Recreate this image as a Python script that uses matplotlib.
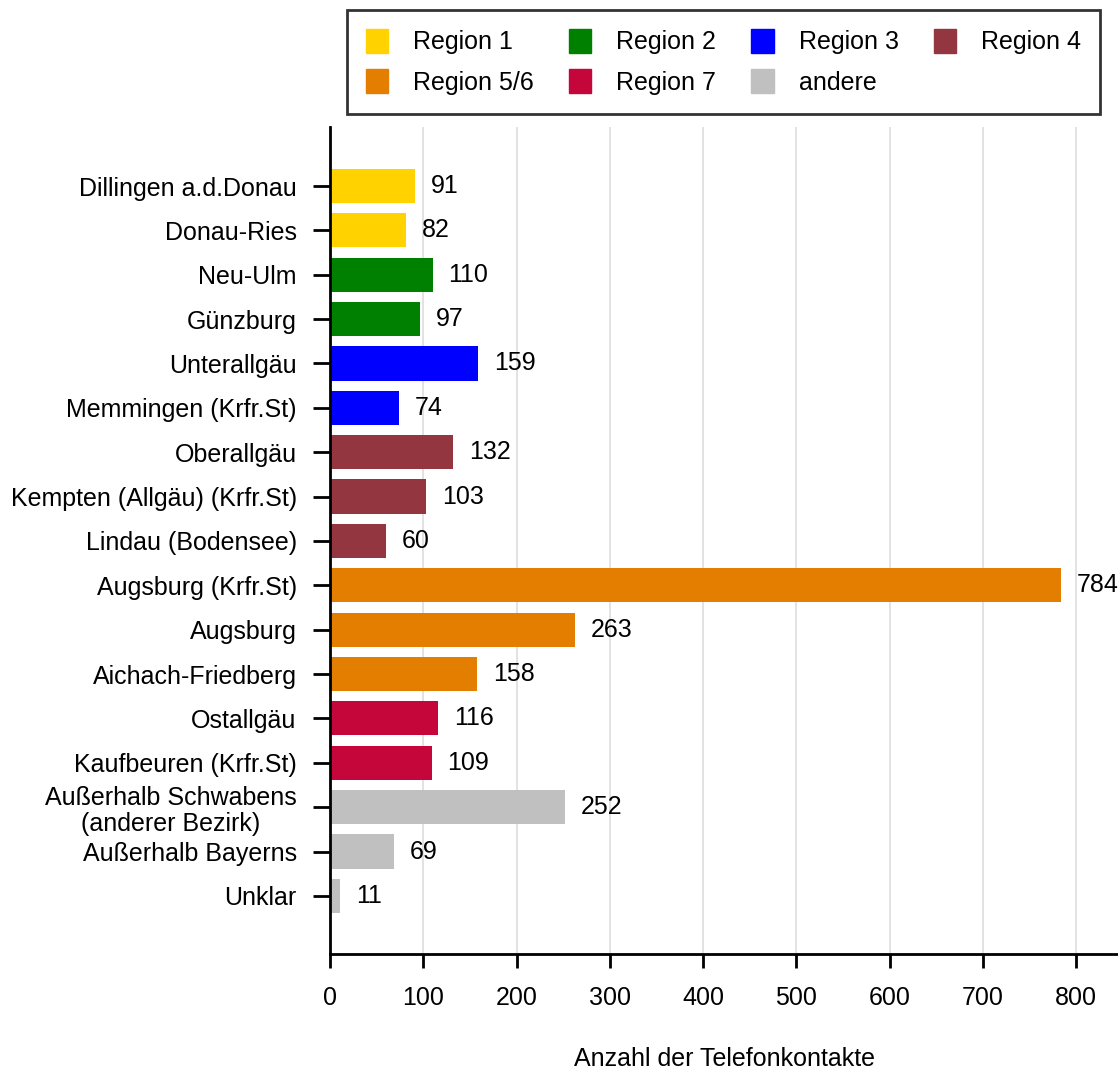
import matplotlib.pyplot as plt
from matplotlib.patches import Patch

plt.rcParams['font.family'] = ['Liberation Sans', 'DejaVu Sans']

labels = ['Dillingen a.d.Donau', 'Donau-Ries', 'Neu-Ulm', 'Günzburg', 'Unterallgäu',
          'Memmingen (Krfr.St)', 'Oberallgäu', 'Kempten (Allgäu) (Krfr.St)',
          'Lindau (Bodensee)', 'Augsburg (Krfr.St)', 'Augsburg', 'Aichach-Friedberg',
          'Ostallgäu', 'Kaufbeuren (Krfr.St)', 'Außerhalb Schwabens\n(anderer Bezirk)',
          'Außerhalb Bayerns', 'Unklar']
values = [91, 82, 110, 97, 159, 74, 132, 103, 60, 784, 263, 158, 116, 109, 252, 69, 11]
regions = ['Region 1', 'Region 1', 'Region 2', 'Region 2', 'Region 3', 'Region 3',
           'Region 4', 'Region 4', 'Region 4', 'Region 5/6', 'Region 5/6', 'Region 5/6',
           'Region 7', 'Region 7', 'andere', 'andere', 'andere']
region_names = ['Region 1', 'Region 2', 'Region 3', 'Region 4', 'Region 5/6', 'Region 7', 'andere']
region_colors = ['#ffd200', '#008000', '#0000ff', '#933640', '#e37e00', '#c4063b', '#c0c0c0']
cmap = dict(zip(region_names, region_colors))

fs = 18

fig = plt.figure(figsize=(11.18, 10.71), dpi=100)
ax = fig.add_axes([330 / 1118, 1 - 954 / 1071, 788 / 1118, (954 - 127) / 1071])

y = list(range(len(values)))
ax.barh(y, values, height=0.77, color=[cmap[r] for r in regions], zorder=2)
for yi, v in zip(y, values):
    ax.text(v + 17, yi, str(v), va='center', ha='left', fontsize=fs)

ax.set_ylim(16 + 1.31, -1.33)
ax.set_xlim(0, 845)
ax.set_yticks(y)
ax.set_yticklabels(labels, fontsize=fs, linespacing=1.15)
for t in ax.get_yticklabels():
    t.set_multialignment('center')
ax.set_xticks(range(0, 900, 100))
ax.tick_params(axis='x', labelsize=fs, length=10, width=2, pad=13)
ax.tick_params(axis='y', length=12, width=2, pad=12)
ax.grid(axis='x', color='#dddddd', linewidth=1.2, zorder=0)
ax.spines['top'].set_visible(False)
ax.spines['right'].set_visible(False)
ax.spines['left'].set_linewidth(2)
ax.spines['bottom'].set_linewidth(2)
ax.set_xlabel('Anzahl der Telefonkontakte', fontsize=fs, labelpad=27)

# row-major legend order for 4 columns
order = [0, 4, 1, 5, 2, 6, 3]
handles = [Patch(color=region_colors[i], label=region_names[i]) for i in order]
leg = fig.legend(handles=handles, ncol=4, loc='upper left',
                 bbox_to_anchor=(347 / 1118, 1 - 110 / 1071, (1100 - 347) / 1118, 100 / 1071),
                 mode='expand', fontsize=fs, frameon=True, fancybox=False,
                 edgecolor='black', handlelength=0.9, handleheight=1.1,
                 handletextpad=1.0, borderpad=0.75, labelspacing=0.6,
                 borderaxespad=0)
leg.get_frame().set_linewidth(2)

fig.savefig('out.png', dpi=100)
